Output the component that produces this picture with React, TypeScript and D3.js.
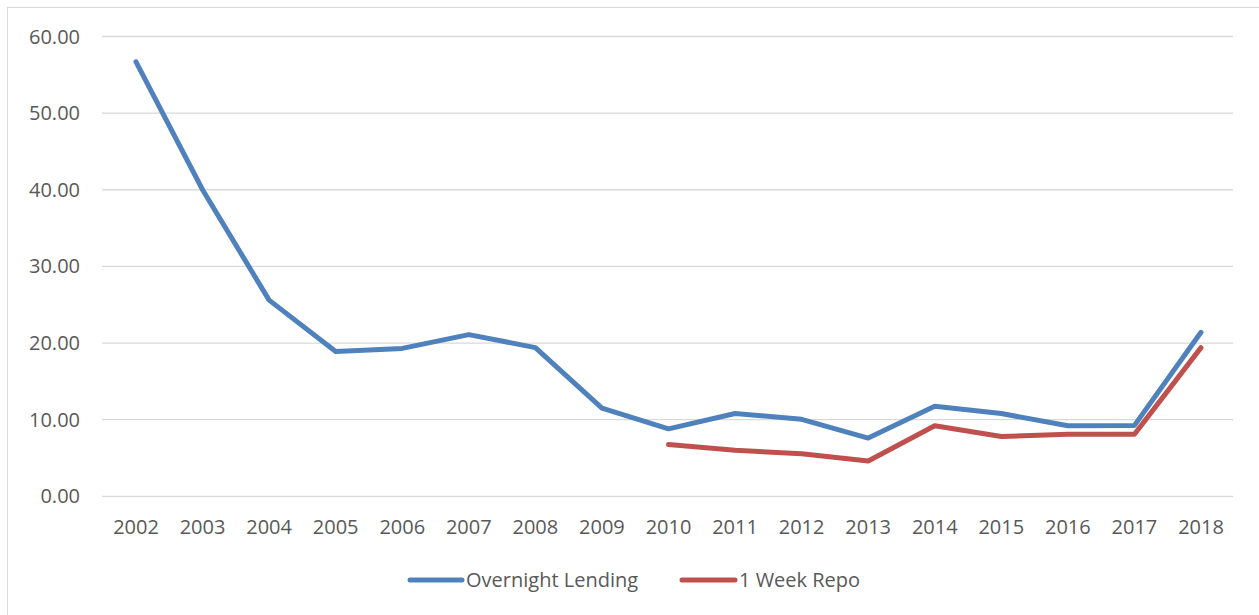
import React from "react";
import * as d3 from "d3";

const years = ["2002","2003","2004","2005","2006","2007","2008","2009","2010","2011","2012","2013","2014","2015","2016","2017","2018"];
const overnightLending: (number | null)[] = [56.7, 40.0, 25.6, 18.9, 19.3, 21.1, 19.4, 11.5, 8.8, 10.8, 10.05, 7.6, 11.75, 10.8, 9.2, 9.25, 21.4];
const weekRepo: (number | null)[] = [null, null, null, null, null, null, null, null, 6.75, 6.0, 5.55, 4.6, 9.2, 7.8, 8.1, 8.1, 19.4];
const yTicks = [0, 10, 20, 30, 40, 50, 60];

const W = 1259, H = 615;
const FONT = "'Open Sans', 'Noto Sans', sans-serif";
const FS = 20;

export default function App() {
  const x = d3.scalePoint<string>().domain(years).range([136, 1201]);
  const y = d3.scaleLinear().domain([0, 60]).range([496.3, 36.5]);
  const mk = (vals: (number | null)[]) =>
    d3.line<number | null>()
      .defined((d) => d !== null)
      .x((_, i) => x(years[i]) as number)
      .y((d) => y(d as number))(vals) as string;

  return (
    <svg width={W} height={H} style={{ position: "absolute", left: 0, top: 0, background: "#fff" }}>
      <rect x={7.5} y={7.5} width={1260} height={620} fill="#fff" stroke="#d9d9d9" strokeWidth={1} />
      {yTicks.map((t) => (
        <g key={t}>
          <line x1={102} x2={1233} y1={y(t)} y2={y(t)} stroke="#d9d9d9" strokeWidth={1.3} />
          <text x={80} y={y(t)} dy="0.35em" textAnchor="end" fontFamily={FONT} fontSize={FS} fill="#595959">
            {t.toFixed(2)}
          </text>
        </g>
      ))}
      {years.map((yr) => (
        <text key={yr} x={x(yr)} y={527} dy="0.35em" textAnchor="middle" fontFamily={FONT} fontSize={FS} fill="#595959">
          {yr}
        </text>
      ))}
      <path d={mk(overnightLending)} fill="none" stroke="#4f81bd" strokeWidth={5} strokeLinejoin="round" strokeLinecap="round" />
      <path d={mk(weekRepo)} fill="none" stroke="#c0504d" strokeWidth={5} strokeLinejoin="round" strokeLinecap="round" />
      <g>
        <line x1={410} x2={462} y1={580} y2={580} stroke="#4f81bd" strokeWidth={5} strokeLinecap="round" />
        <text x={466} y={580} dy="0.35em" fontFamily={FONT} fontSize={FS} fill="#595959">Overnight Lending</text>
        <line x1={682} x2={735} y1={580} y2={580} stroke="#c0504d" strokeWidth={5} strokeLinecap="round" />
        <text x={739} y={580} dy="0.35em" fontFamily={FONT} fontSize={FS} fill="#595959">1 Week Repo</text>
      </g>
    </svg>
  );
}
